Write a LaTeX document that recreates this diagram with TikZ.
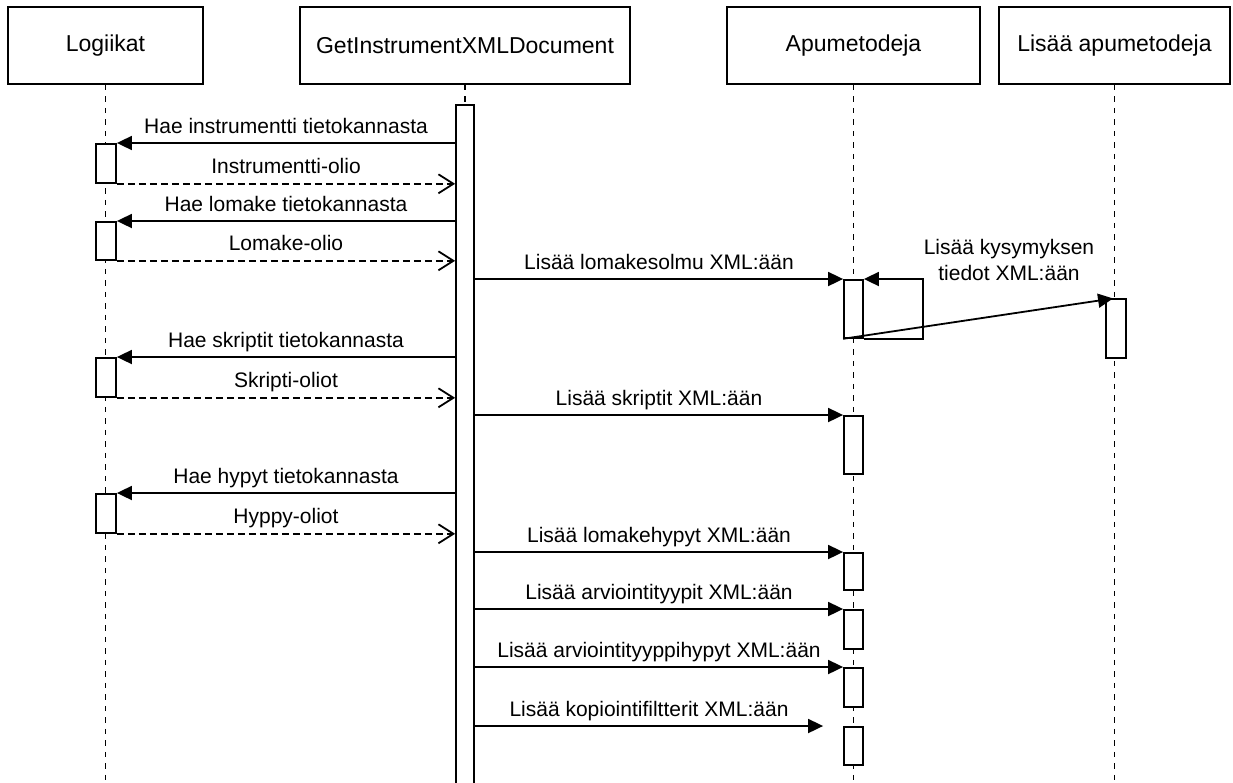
\documentclass[tikz,border=0pt]{standalone}
\usepackage{fontspec}
\setmainfont{Liberation Sans}
\usetikzlibrary{arrows.meta,calc}
\begin{document}
\begin{tikzpicture}[x=1pt,y=-1pt,
  hdr/.style={draw, line width=1.8pt, minimum width=#1, minimum height=77pt, inner sep=0pt, font=\fontsize{23}{27}\selectfont},
  act/.style={draw, fill=white, line width=1.8pt, minimum width=19pt, minimum height=#1, inner sep=0pt, anchor=north},
  life/.style={line width=1.8pt, dash pattern=on 5.5pt off 6pt},
  msg/.style={line width=1.8pt, -{Triangle[length=15pt,width=14pt]}},
  ret/.style={line width=1.8pt, dash pattern=on 7pt off 4pt, -{Straight Barb[length=15pt,width=19pt]}},
  lbl/.style={font=\fontsize{21}{26}\selectfont, inner sep=0pt, anchor=base, yshift=10pt, midway}
]
\useasboundingbox (0,0) rectangle (1233,782);
\clip (0,0) rectangle (1233,782);
\fill[white] (0,0) rectangle (1233,782);
% headers
\node[hdr=195pt] (L) at (105.5,45.5) {Logiikat};
\node[hdr=330pt] (G) at (465,45.5) {GetInstrumentXMLDocument};
\node[hdr=253pt] (A) at (853.5,45.5) {Apumetodeja};
\node[hdr=231pt] (B) at (1114.5,45.5) {Lisää apumetodeja};
% lifelines
\draw[life] (L.south) -- (L.south |- 0,790);
\draw[life] (G.south) -- (G.south |- 0,110);
\draw[life] (A.south) -- (A.south |- 0,790);
\draw[life] (B.south) -- (B.south |- 0,790);
% activations
\node[act=700pt, minimum width=18pt] (ga) at (465,104) {};
\node[act=39pt, minimum width=20pt] (a1) at (106,143) {};
\node[act=38pt, minimum width=20pt] (a2) at (106,221) {};
\node[act=39pt, minimum width=20pt] (a3) at (106,357) {};
\node[act=39pt, minimum width=20pt] (a4) at (106,493) {};
\node[act=58pt] (b1) at (853.5,279) {};
\node[act=58pt] (b2) at (853.5,415) {};
\node[act=37pt] (b3) at (853.5,552) {};
\node[act=39pt] (b4) at (853.5,609) {};
\node[act=39pt] (b5) at (853.5,667) {};
\node[act=38pt] (b6) at (853.5,726) {};
\node[act=59pt, minimum width=20pt] (c1) at (1116,298) {};
% messages to Logiikat
\draw[msg] (ga.west |- a1.north) -- (a1.north east) node[lbl] {Hae instrumentti tietokannasta};
\draw[ret] (a1.south east) -- (ga.west |- a1.south) node[lbl] {Instrumentti-olio};
\draw[msg] (ga.west |- a2.north) -- (a2.north east) node[lbl] {Hae lomake tietokannasta};
\draw[ret] (a2.south east) -- (ga.west |- a2.south) node[lbl] {Lomake-olio};
\draw[msg] (ga.west |- a3.north) -- (a3.north east) node[lbl] {Hae skriptit tietokannasta};
\draw[ret] (a3.south east) -- (ga.west |- a3.south) node[lbl] {Skripti-oliot};
\draw[msg] (ga.west |- a4.north) -- (a4.north east) node[lbl] {Hae hypyt tietokannasta};
\draw[ret] (a4.south east) -- (ga.west |- a4.south) node[lbl] {Hyppy-oliot};
% messages to Apumetodeja
\draw[msg] (ga.east |- b1.north) -- (b1.north west) node[lbl] {Lisää lomakesolmu XML:ään};
\draw[msg] (b1.south east) -- ++(59,0) |- (b1.north east);
\draw[msg, shorten >=3pt] (b1.south west) -- (c1.north)
  node[font=\fontsize{21}{26}\selectfont, align=center, inner sep=0pt] at (1009,260) {Lisää kysymyksen\\tiedot XML:ään};
\draw[msg] (ga.east |- b2.north) -- (b2.north west) node[lbl] {Lisää skriptit XML:ään};
\draw[msg] (ga.east |- b3.north) -- (b3.north west) node[lbl] {Lisää lomakehypyt XML:ään};
\draw[msg] (ga.east |- b4.north) -- (b4.north west) node[lbl] {Lisää arviointityypit XML:ään};
\draw[msg] (ga.east |- b5.north) -- (b5.north west) node[lbl] {Lisää arviointityyppihypyt XML:ään};
\draw[msg, shorten >=20pt] (ga.east |- b6.north) -- (b6.north west) node[lbl, xshift=-10pt] {Lisää kopiointifiltterit XML:ään};
\end{tikzpicture}
\end{document}
